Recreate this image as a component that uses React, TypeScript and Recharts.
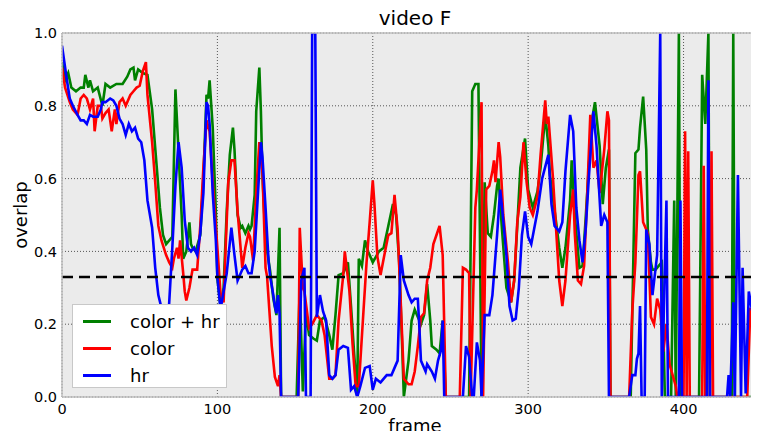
import { CartesianGrid, Legend, Line, LineChart, ReferenceLine, XAxis, YAxis } from 'recharts'

// [frame, overlap]
const colorHrPoints: [number, number][] = [
  [0, 0.92], [2, 0.87], [4, 0.89], [6, 0.85], [9, 0.84], [12, 0.85], [14, 0.85], [15, 0.885], [17, 0.85], [18, 0.87],
  [20, 0.84], [23, 0.85], [26, 0.8], [28, 0.86], [31, 0.85], [35, 0.86], [39, 0.86], [42, 0.88], [44, 0.9], [46, 0.905],
  [47, 0.87], [49, 0.9], [52, 0.89], [55, 0.885], [58, 0.79], [61, 0.63], [63, 0.52], [65, 0.445], [67, 0.42], [71, 0.44],
  [73, 0.845], [77, 0.5], [78, 0.38], [80, 0.4], [82, 0.48], [83, 0.42], [84, 0.41], [86, 0.4], [89, 0.445], [91, 0.6],
  [93, 0.83], [94, 0.82], [95, 0.87], [97, 0.74], [99, 0.51], [100, 0.325], [102, 0.25], [104, 0.3], [106, 0.51], [108, 0.665],
  [110, 0.74], [111, 0.68], [113, 0.5], [115, 0.465], [116, 0.47], [118, 0.45], [120, 0.47], [121, 0.46], [122, 0.47], [124, 0.555],
  [125, 0.785], [127, 0.905], [128, 0.785], [129, 0.61], [131, 0.43], [134, 0.345], [136, 0.27], [138, 0.225], [140, 0.465], [141, 0],
  [151, 0], [153, 0.3], [155, 0.015], [157, 0.235], [159, 0.17], [162, 0.16], [164, 0.155], [166, 0.21], [169, 0.22], [172, 0.17],
  [174, 0.13], [176, 0.225], [178, 0.335], [181, 0.34], [184, 0.37], [186, 0.25], [188, 0.12], [190, 0], [191, 0.38], [193, 0.36],
  [195, 0.43], [197, 0.4], [200, 0.37], [204, 0.4], [207, 0.41], [210, 0.47], [213, 0.53], [215, 0.5], [217, 0.37], [219, 0.13],
  [220, 0], [223, 0.1], [225, 0.21], [227, 0.24], [229, 0.22], [231, 0.2], [233, 0.225], [235, 0.31], [237, 0.21], [238, 0.14],
  [241, 0.13], [243, 0.12], [245, 0.21], [247, 0], [262, 0], [264, 0.84], [266, 0.86], [268, 0.86], [270, 0], [272, 0.59],
  [274, 0.45], [276, 0.44], [278, 0.5], [280, 0.58], [281, 0.6], [283, 0.47], [286, 0.3], [289, 0.26], [291, 0.32], [293, 0.47],
  [295, 0.63], [298, 0.71], [300, 0.57], [303, 0.52], [306, 0.565], [308, 0.63], [311, 0.775], [313, 0.69], [314, 0.61], [318, 0.48],
  [320, 0.41], [322, 0.355], [324, 0.41], [327, 0.54], [328, 0.65], [330, 0.5], [333, 0.355], [335, 0.36], [337, 0.49], [339, 0.63],
  [341, 0.76], [343, 0.81], [346, 0.69], [348, 0.53], [350, 0.63], [352, 0.68], [353, 0], [366, 0], [369, 0.67], [371, 0.68],
  [372, 0.74], [374, 0.825], [376, 0.68], [377, 0.46], [379, 0.37], [380, 0.35], [382, 0.35], [384, 0.36], [386, 0.37], [388, 0],
  [392, 0], [394, 0.54], [395, 0], [397, 1], [398, 0], [410, 0], [412, 0.885], [414, 0.75], [416, 1], [417, 0],
  [431, 0], [432, 1], [433, 0], [449, 0],
]

const colorPoints: [number, number][] = [
  [0, 0.905], [2, 0.85], [5, 0.81], [7, 0.79], [10, 0.775], [12, 0.82], [14, 0.83], [16, 0.82], [18, 0.79], [20, 0.82],
  [21, 0.73], [23, 0.8], [25, 0.8], [26, 0.765], [28, 0.78], [30, 0.79], [32, 0.73], [34, 0.79], [35, 0.75], [37, 0.81],
  [39, 0.82], [41, 0.8], [44, 0.83], [46, 0.84], [48, 0.85], [50, 0.855], [52, 0.895], [54, 0.92], [55, 0.83], [58, 0.7],
  [60, 0.59], [62, 0.47], [64, 0.43], [67, 0.39], [69, 0.37], [71, 0.355], [72, 0.38], [74, 0.41], [75, 0.38], [76, 0.43],
  [78, 0.34], [79, 0.29], [80, 0.265], [82, 0.3], [84, 0.35], [87, 0.35], [89, 0.47], [91, 0.63], [93, 0.76], [95, 0.73],
  [97, 0.59], [100, 0.41], [102, 0.285], [104, 0.26], [105, 0.375], [107, 0.59], [109, 0.65], [111, 0.65], [113, 0.51], [116, 0.355],
  [118, 0.41], [120, 0.45], [121, 0.44], [123, 0.375], [125, 0.56], [127, 0.7], [129, 0.62], [131, 0.355], [132, 0.33], [135, 0.14],
  [137, 0.055], [139, 0.03], [140, 0.06], [141, 0], [152, 0], [153, 0.465], [155, 0.3], [156, 0.29], [159, 0.19], [161, 0.2],
  [164, 0.225], [167, 0.21], [169, 0.17], [172, 0.05], [174, 0.05], [176, 0.06], [178, 0.21], [181, 0.335], [182, 0.4], [185, 0.29],
  [187, 0.145], [189, 0.03], [191, 0.03], [194, 0.235], [196, 0.37], [198, 0.48], [200, 0.595], [201, 0.535], [203, 0.385], [205, 0.335],
  [207, 0.38], [210, 0.445], [212, 0.45], [214, 0.555], [216, 0.46], [218, 0.26], [220, 0.05], [223, 0.035], [225, 0.035], [227, 0.07],
  [229, 0.14], [231, 0.22], [233, 0.23], [235, 0.32], [237, 0.355], [239, 0.42], [241, 0.445], [243, 0.47], [245, 0.39], [247, 0],
  [256, 0], [258, 0.355], [260, 0.35], [262, 0.34], [263, 0], [266, 0.52], [267, 0.57], [270, 0.81], [271, 0], [273, 0.57],
  [275, 0.58], [277, 0.62], [278, 0.65], [279, 0.59], [281, 0.7], [282, 0.66], [284, 0.5], [287, 0.37], [289, 0.26], [291, 0.32],
  [293, 0.48], [295, 0.55], [297, 0.7], [299, 0.59], [301, 0.52], [303, 0.5], [306, 0.55], [308, 0.665], [311, 0.815], [312, 0.75],
  [313, 0.77], [316, 0.6], [318, 0.46], [320, 0.32], [322, 0.25], [324, 0.32], [327, 0.5], [329, 0.57], [330, 0.45], [332, 0.32],
  [334, 0.31], [336, 0.36], [338, 0.555], [340, 0.775], [342, 0.63], [344, 0.65], [346, 0.56], [349, 0.68], [351, 0.785], [352, 0.76],
  [353, 0], [365, 0], [367, 0.235], [369, 0.37], [371, 0.61], [372, 0.62], [374, 0.48], [376, 0.46], [377, 0.45], [379, 0.22],
  [381, 0.2], [383, 0.27], [385, 0.24], [387, 0.125], [389, 0.2], [391, 0.09], [395, 0.03], [396, 0], [400, 0], [401, 0.73],
  [402, 0], [403, 0.675], [404, 0], [412, 0], [413, 0.635], [414, 0], [417, 0], [418, 0.675], [419, 0], [441, 0],
  [443, 0.245], [444, 0.22], [447, 0.15], [449, 0.09],
]

const hrPoints: [number, number][] = [
  [0, 0.965], [3, 0.875], [5, 0.82], [7, 0.8], [10, 0.775], [12, 0.76], [14, 0.76], [16, 0.75], [18, 0.775], [20, 0.77],
  [23, 0.77], [25, 0.79], [26, 0.81], [28, 0.81], [31, 0.82], [33, 0.815], [35, 0.8], [37, 0.765], [39, 0.75], [41, 0.72],
  [43, 0.75], [45, 0.73], [47, 0.74], [49, 0.71], [51, 0.7], [53, 0.65], [55, 0.54], [58, 0.465], [60, 0.355], [62, 0.28],
  [64, 0.245], [66, 0.13], [67, 0.12], [69, 0.26], [71, 0.41], [73, 0.58], [75, 0.7], [77, 0.63], [79, 0.485], [81, 0.41],
  [83, 0.4], [85, 0.41], [87, 0.39], [89, 0.45], [91, 0.56], [93, 0.81], [94, 0.8], [95, 0.75], [97, 0.56], [99, 0.43],
  [100, 0.33], [102, 0.24], [104, 0.29], [106, 0.34], [109, 0.465], [111, 0.39], [113, 0.32], [116, 0.35], [118, 0.36], [120, 0.34],
  [122, 0.34], [124, 0.4], [126, 0.55], [128, 0.7], [129, 0.66], [131, 0.52], [133, 0.37], [134, 0.33], [136, 0.28], [137, 0.25],
  [138, 0.23], [139, 0.28], [140, 0.23], [141, 0], [152, 0], [154, 0.32], [156, 0.355], [157, 0], [160, 0], [161, 1],
  [163, 1], [164, 0.22], [166, 0.28], [168, 0.235], [170, 0.21], [172, 0.06], [174, 0.05], [176, 0.06], [178, 0.13], [181, 0.14],
  [184, 0.135], [186, 0.02], [188, 0.03], [190, 0], [192, 0.03], [195, 0.08], [198, 0.085], [200, 0.02], [202, 0.05], [205, 0.04],
  [209, 0.06], [212, 0.06], [214, 0.08], [216, 0.1], [218, 0.39], [220, 0.32], [223, 0.28], [225, 0.26], [227, 0.27], [229, 0.27],
  [230, 0.19], [231, 0.1], [234, 0.07], [235, 0.09], [238, 0.07], [240, 0.05], [242, 0.1], [244, 0.13], [245, 0.21], [246, 0],
  [258, 0], [260, 0.14], [262, 0.11], [264, 0], [265, 0], [267, 0.15], [269, 0.1], [270, 0], [272, 0.225], [275, 0.225],
  [277, 0.28], [280, 0.445], [282, 0.57], [283, 0.53], [286, 0.39], [288, 0.25], [290, 0.21], [292, 0.215], [294, 0.3], [296, 0.445],
  [298, 0.51], [300, 0.44], [302, 0.42], [306, 0.51], [309, 0.6], [313, 0.665], [315, 0.53], [317, 0.47], [320, 0.455], [322, 0.48],
  [324, 0.62], [327, 0.775], [329, 0.73], [331, 0.52], [333, 0.43], [335, 0.37], [337, 0.46], [339, 0.6], [342, 0.785], [344, 0.69],
  [347, 0.47], [349, 0.5], [351, 0.48], [352, 0], [365, 0], [367, 0.06], [369, 0.06], [370, 0.105], [371, 0.12], [372, 0.25],
  [373, 0], [375, 0], [376, 0.46], [378, 0.42], [380, 0.28], [383, 0.39], [385, 1], [386, 0], [389, 0.54], [390, 0],
  [397, 0], [398, 0.54], [399, 0], [415, 0], [416, 0.87], [417, 0], [428, 0], [429, 0.06], [430, 0], [432, 0.26],
  [433, 0], [435, 0.61], [437, 0], [438, 0.355], [440, 0.01], [442, 0.29], [444, 0.24], [446, 0.21], [449, 0.215],
]

const xTicks = [0, 100, 200, 300, 400]
const yTicks = [0, 0.2, 0.4, 0.6, 0.8, 1.0]
const threshold = 0.33

const toRows = (pts: [number, number][]) => pts.map(([frame, overlap]) => ({ frame, overlap }))

const series = [
  { name: 'color + hr', color: '#008000', rows: toRows(colorHrPoints) },
  { name: 'color', color: '#ff0000', rows: toRows(colorPoints) },
  { name: 'hr', color: '#0000ff', rows: toRows(hrPoints) },
]
const seriesOrder = series.map((s) => s.name)

const font = '"DejaVu Sans", sans-serif'
const tickStyle = { fill: '#000', fontSize: 14.5, fontFamily: font }

function LegendBox({ payload }: any) {
  // keep the plotting order, not the default alphabetical sort
  const items = [...(payload || [])].sort((a: any, b: any) => seriesOrder.indexOf(a.value) - seriesOrder.indexOf(b.value))
  return (
    <div style={{ background: '#fff', border: '1px solid #c8c8c8', width: 155, height: 84, boxSizing: 'border-box', padding: '3px 0 0 10px', fontFamily: font, fontSize: 18 }}>
      {items.map((p: any) => (
        <div key={p.value} style={{ display: 'flex', alignItems: 'center', height: 27 }}>
          <span style={{ display: 'inline-block', width: 28, height: 3, background: p.color, marginRight: 19 }} />
          <span>{p.value}</span>
        </div>
      ))}
    </div>
  )
}

export default function App() {
  return (
    <div style={{ margin: -8, width: 759, height: 439, overflow: 'hidden', position: 'relative', background: '#fff' }}>
      <div style={{ position: 'absolute', left: 0, top: 6, width: 830, textAlign: 'center', fontFamily: font, fontSize: 20 }}>video F</div>
      <div style={{ position: 'absolute', left: 0, top: 415, width: 830, textAlign: 'center', fontFamily: font, fontSize: 18 }}>frame</div>
      <div style={{ position: 'absolute', left: 20, top: 215, transform: 'translate(-50%, -50%) rotate(-90deg)', fontFamily: font, fontSize: 18, whiteSpace: 'nowrap' }}>overlap</div>
      <LineChart width={769} height={439} margin={{ top: 33, right: 0, bottom: 0, left: 0 }} style={{ position: 'absolute', left: 0, top: 0 }}>
        <CartesianGrid fill="#ebebeb" stroke="#555" strokeDasharray="1 2" verticalValues={xTicks} horizontalValues={yTicks} />
        <XAxis
          type="number"
          dataKey="frame"
          domain={[0, 455]}
          ticks={xTicks}
          allowDataOverflow
          height={42}
          tickSize={0}
          tickMargin={7}
          tick={tickStyle}
          axisLine={{ stroke: '#bdbdbd', strokeWidth: 1.5 }}
        />
        <YAxis
          type="number"
          domain={[0, 1]}
          ticks={yTicks}
          allowDataOverflow
          width={62}
          tickSize={0}
          tickMargin={5}
          tick={tickStyle}
          tickFormatter={(v) => Number(v).toFixed(1)}
          axisLine={{ stroke: '#bdbdbd', strokeWidth: 1.5 }}
        />
        {series.map((s) => (
          <Line
            key={s.name}
            data={s.rows}
            dataKey="overlap"
            name={s.name}
            type="linear"
            stroke={s.color}
            strokeWidth={2.6}
            dot={false}
            activeDot={false}
            isAnimationActive={false}
          />
        ))}
        <ReferenceLine y={threshold} stroke="#000" strokeWidth={2.5} strokeDasharray="11 6" />
        <ReferenceLine y={1} stroke="#bdbdbd" strokeWidth={1.5} />
        <Legend
          layout="horizontal"
          verticalAlign="middle"
          align="center"
          content={<LegendBox />}
          wrapperStyle={{ left: 72, top: 304, width: 155, height: 84 }}
        />
      </LineChart>
    </div>
  )
}
